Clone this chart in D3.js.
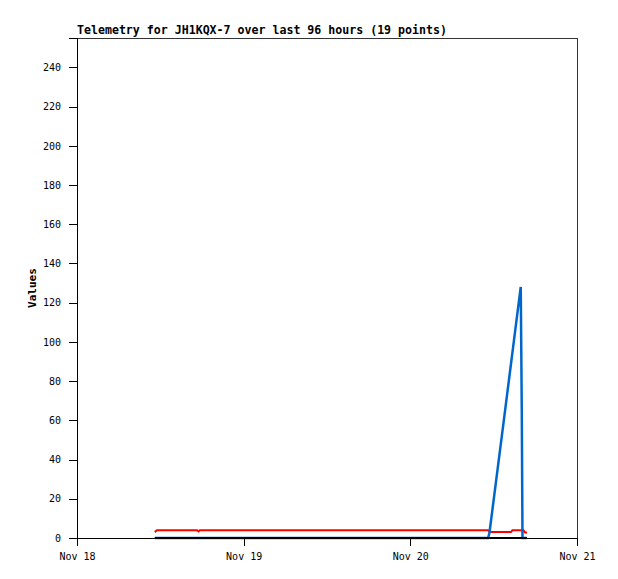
<!DOCTYPE html>
<html>
<head>
<meta charset="utf-8">
<script src="https://cdn.jsdelivr.net/npm/d3@7"></script>
<style>
    body { margin: 0; background: #fff; }
    svg { display: block; }
</style>
</head>
<body>
<svg id="graph" width="618" height="579"></svg>
<script>
// hours after Nov 18 00:00 for each of the 19 telemetry points
const hours = [11.2, 11.5, 17.3, 17.5, 17.7, 30, 45, 59.2, 59.4, 61.5, 62.5, 62.7, 63.5, 63.9, 64.05, 64.15, 64.3, 64.5, 64.8];
const redValues = [3.0, 3.9, 3.9, 3.3, 3.9, 3.9, 3.9, 3.9, 3.0, 3.0, 3.0, 3.9, 3.9, 3.9, 3.9, 3.9, 3.9, 2.8, 2.8];
const blueValues = [0, 0, 0, 0, 0, 0, 0, 0, 2.8, 61, 89, 94.5, 117, 128, 64, 0, 0, 0, 0];
const blackValues = [0, 0, 0, 0, 0, 0, 0, 0, 0, 0, 0, 0, 0, 0, 0, 0, 0, 0, 0];
const yTicks = [0, 20, 40, 60, 80, 100, 120, 140, 160, 180, 200, 220, 240];
const xTickDays = ['2023-11-18', '2023-11-19', '2023-11-20', '2023-11-21'];

(function () {
    let graph = {
        svg: d3.select('#graph'),
        margin: { top: 38, left: 77, right: 41, bottom: 41 },
        get width() { return 618 - this.margin.left - this.margin.right; },
        get height() { return 579 - this.margin.top - this.margin.bottom; }
    };
    const start = new Date(2023, 10, 18);
    const dates = hours.map(h => new Date(start.getTime() + h * 3600000));

    let position = {
        x: d3.scaleTime().domain([start, new Date(2023, 10, 21)]).range([0, graph.width]),
        y: d3.scaleLinear().domain([0, 255]).range([graph.height, 0])
    };

    const mono = '"DejaVu Sans Mono", monospace';

    // title
    graph.svg.append('text')
        .attr('x', graph.margin.left)
        .attr('y', 34)
        .style('font', `bold 11.6px ${mono}`)
        .attr('fill', '#000')
        .text('Telemetry for JH1KQX-7 over last 96 hours (19 points)');

    let g = graph.svg.append('g')
        .attr('transform', `translate(${graph.margin.left},${graph.margin.top})`);

    // frame
    g.append('rect')
        .attr('x', 0).attr('y', 0)
        .attr('width', graph.width).attr('height', graph.height)
        .attr('fill', 'none')
        .attr('stroke', '#333')
        .attr('stroke-width', 1)
        .attr('shape-rendering', 'crispEdges');

    // y axis
    let yAxis = g.append('g')
        .call(d3.axisLeft(position.y).tickValues(yTicks).tickSize(8).tickPadding(8));
    // x axis
    let xAxis = g.append('g')
        .attr('transform', `translate(0,${graph.height})`)
        .call(d3.axisBottom(position.x)
            .tickValues(xTickDays.map(s => d3.timeParse('%Y-%m-%d')(s)))
            .tickFormat(d3.timeFormat('Nov %d'))
            .tickSize(8).tickPadding(7));
    [yAxis, xAxis].forEach(a => {
        a.selectAll('path.domain').attr('stroke', '#000').attr('shape-rendering', 'crispEdges');
        a.selectAll('line').attr('stroke', '#000').attr('shape-rendering', 'crispEdges');
        a.selectAll('text').style('font', `10px ${mono}`).attr('fill', '#000');
    });

    // y label
    g.append('text')
        .attr('transform', `translate(${-41},${graph.height / 2}) rotate(-90)`)
        .attr('text-anchor', 'middle')
        .style('font', `bold 11px ${mono}`)
        .text('Values');

    let line = d3.line()
        .x(d => position.x(d[0]))
        .y(d => position.y(d[1]));

    const series = [
        { values: redValues, color: '#ff0000', width: 2 },
        { values: blueValues, color: '#0066cc', width: 2.5 },
        { values: blackValues, color: '#000000', width: 2 }
    ];
    g.selectAll('path.series')
        .data(series)
        .enter()
        .append('path')
        .attr('class', 'series')
        .attr('d', s => line(dates.map((d, i) => [d, s.values[i]])))
        .attr('fill', 'none')
        .attr('stroke', s => s.color)
        .attr('stroke-width', s => s.width);
}());
</script>
</body>
</html>
